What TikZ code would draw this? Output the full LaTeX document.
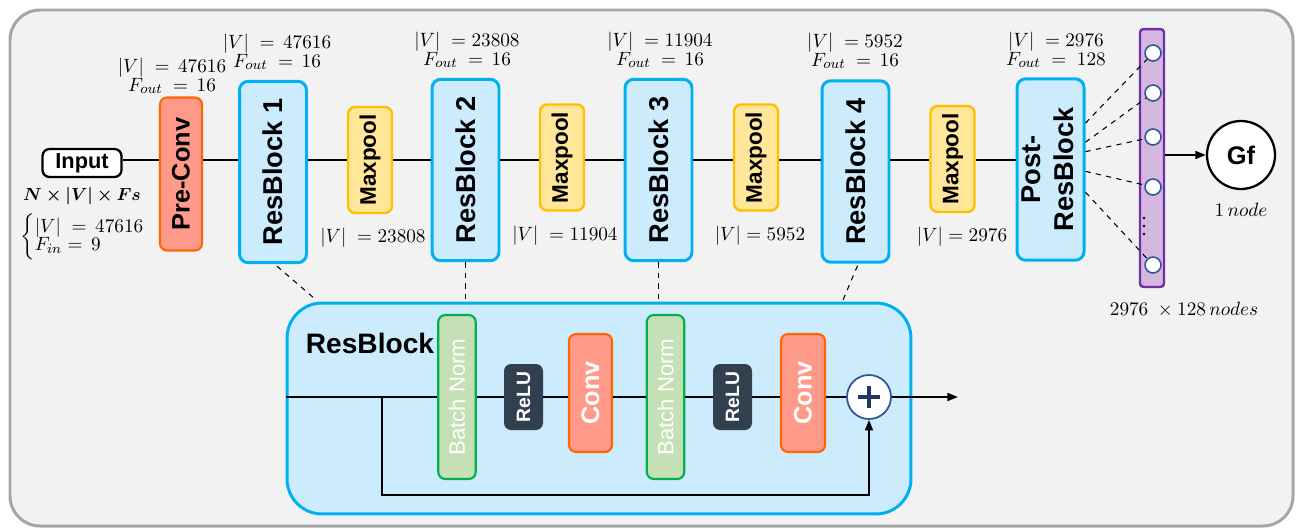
\documentclass[tikz,border=0pt]{standalone}
\usepackage[no-math]{fontspec}
\setmainfont{Liberation Sans}
\usepackage{amsmath}
\usepackage{bm}
\usepackage{tikz}
\usetikzlibrary{arrows.meta, positioning, calc}
\definecolor{frmgray}{RGB}{166,166,166}
\definecolor{frmfill}{RGB}{242,242,242}
\definecolor{rbblue}{RGB}{0,176,240}
\definecolor{rbfill}{RGB}{204,235,252}
\definecolor{cvorange}{RGB}{255,102,0}
\definecolor{cvfill}{RGB}{255,153,138}
\definecolor{plgold}{RGB}{255,192,0}
\definecolor{plfill}{RGB}{255,230,153}
\definecolor{bngreen}{RGB}{0,176,80}
\definecolor{bnfill}{RGB}{197,224,180}
\definecolor{relunavy}{RGB}{50,63,79}
\definecolor{fcpurple}{RGB}{112,48,160}
\definecolor{fcfill}{RGB}{213,182,223}
\definecolor{nodeblue}{RGB}{47,85,151}
\definecolor{plusnavy}{RGB}{31,56,100}
\newcommand{\vtxt}[1]{\rotatebox{90}{#1}}

\begin{document}
\begin{tikzpicture}[x=0.02cm, y=-0.02cm,
  inbox/.style={draw=black, fill=white, line width=1.3pt, rounded corners=4pt,
    minimum width=1.58cm, minimum height=0.56cm, inner sep=0pt,
    font=\fontsize{12.4}{14}\selectfont\bfseries},
  cvbox/.style={draw=cvorange, fill=cvfill, line width=1.2pt, rounded corners=4pt,
    minimum width=#1, inner sep=0pt},
  rblk/.style={draw=rbblue, fill=rbfill, line width=1.7pt, rounded corners=5pt,
    minimum width=1.34cm, minimum height=3.63cm, inner sep=0pt,
    font=\fontsize{15.5}{19}\selectfont\bfseries},
  pool/.style={draw=plgold, fill=plfill, line width=1.4pt, rounded corners=4pt,
    minimum width=0.88cm, minimum height=2.12cm, inner sep=0pt,
    font=\fontsize{12.8}{15}\selectfont\bfseries},
  bnbox/.style={draw=bngreen, fill=bnfill, line width=1.2pt, rounded corners=4pt,
    minimum width=0.75cm, minimum height=3.28cm, inner sep=0pt, text=white,
    font=\fontsize{12.6}{14}\selectfont},
  relubox/.style={fill=relunavy, rounded corners=4pt,
    minimum width=0.78cm, minimum height=1.32cm, inner sep=0pt, text=white,
    font=\fontsize{11}{13}\selectfont\bfseries},
  unit/.style={circle, draw=nodeblue, fill=white, line width=0.9pt,
    minimum size=0.32cm, inner sep=0pt},
  lbl/.style={font=\fontsize{10.95}{10.5}\selectfont, align=center, inner sep=0pt},
  wire/.style={line width=1.1pt},
  arr/.style={-{Stealth[length=6pt, inset=0pt]}, line width=1.1pt},
  dlink/.style={dashed, line width=0.6pt}
]
\useasboundingbox (0,0) rectangle (1298,528);
\draw[draw=frmgray, fill=frmfill, line width=1.7pt, rounded corners=0.6cm]
  (10,10) rectangle (1293,526);

% main pipeline
\node[inbox] (input) at (82,163) {Input};
\node[cvbox=0.84cm, minimum height=3.06cm,
  font=\fontsize{14.4}{17}\selectfont\bfseries] (preconv) at (181,174) {\vtxt{Pre-Conv}};
\node[rblk] (res1) at (273,172) {\vtxt{ResBlock 1}};
\node[pool] (pool1) at (370,160) {\vtxt{Maxpool}};
\node[rblk] (res2) at (465.5,170) {\vtxt{ResBlock 2}};
\node[pool] (pool2) at (562,157.5) {\vtxt{Maxpool}};
\node[rblk] (res3) at (658.5,170) {\vtxt{ResBlock 3}};
\node[pool] (pool3) at (756,157.5) {\vtxt{Maxpool}};
\node[rblk] (res4) at (855.5,171.5) {\vtxt{ResBlock 4}};
\node[pool] (pool4) at (952.5,159) {\vtxt{Maxpool}};
\node[rblk] (post) at (1050.5,169.5)
  {\vtxt{\begin{tabular}{@{}c@{}}Post-\\ResBlock\end{tabular}}};

\coordinate (spine) at (0,160);
\foreach \a/\b in {input/preconv, preconv/res1, res1/pool1, pool1/res2, res2/pool2,
    pool2/res3, res3/pool3, pool3/res4, res4/pool4, pool4/post}
  \draw[wire] (\a.east |- spine) -- (\b.west |- spine);

\node[lbl, font=\fontsize{10}{12}\selectfont] (dims) at (82,196) {$\bm{N\times|V|\times Fs}$};
\node[lbl, anchor=west] (inlbl) at (20,237)
  {$\biggl\{\begin{array}{@{}l@{}}|V|\;=\,47616\\
   F_{in}=\,9\end{array}$};
\node[lbl] (pclbl) at (172,76) {$|V|\;=\,47616$\\$F_{out}\;=\,16$};
\node[lbl] (r1lbl) at (277,52) {$|V|\;=\,47616$\\$F_{out}\;=\,16$};
\node[lbl] (r2lbl) at (467,50) {$|V|\;=23808$\\$F_{out}\;=\,16$};
\node[lbl] (r3lbl) at (660,50) {$|V|\;=11904$\\$F_{out}\;=\,16$};
\node[lbl] (r4lbl) at (855,51) {$|V|\;=5952$\\$F_{out}\;=\,16$};
\node[lbl] (pslbl) at (1056,50) {$|V|\;=2976$\\$F_{out}\;=\;128$};
\node[lbl] (p1lbl) at (373,238) {$|V|\;=23808$};
\node[lbl] (p2lbl) at (565,236) {$|V|\;=11904$};
\node[lbl] (p3lbl) at (760,236) {$|V|=5952$};
\node[lbl] (p4lbl) at (962,237) {$|V|=2976$};

% graph feature layer
\node[draw=fcpurple, fill=fcfill, line width=1.4pt, rounded corners=2pt,
  minimum width=0.48cm, minimum height=5.16cm] (fc) at (1152,158) {};
\foreach \i/\y in {1/53, 2/93, 3/137, 4/187, 5/265}
  \node[unit] (c\i) at (1153,\y) {};
\foreach \y in {218,226,234}
  \fill (1144,\y) circle (1.3);
\draw[dlink] (post.53) -- (c1);
\draw[dlink] (post.38) -- (c2);
\draw[dlink] (post.27) -- (c3);
\draw[dlink] (post.-3) -- (c4);
\draw[dlink] (post.-33) -- (c5);
\node[lbl] (fclbl) at (1184,310) {$2976\;\times 128\,nodes$};

\node[circle, draw=black, fill=white, line width=1.3pt, minimum size=1.36cm,
  font=\fontsize{14.5}{17}\selectfont\bfseries] (gf) at (1241,155) {Gf};
\node[lbl] (gflbl) at (1241,210) {$1\,node$};
\draw[arr] (fc.east |- gf) -- (gf.west);

% ResBlock detail
\node[draw=rbblue, fill=rbfill, line width=1.7pt, rounded corners=0.7cm,
  minimum width=12.48cm, minimum height=4.22cm] (rbd) at (599,408.5) {};
\node[font=\fontsize{16}{19}\selectfont\bfseries, inner sep=0pt] (rbdlbl) at (370,343) {ResBlock};
\coordinate (tap1) at (315,299);
\coordinate (tap4) at (843,300);
\draw[dlink] (res1.south) ++(4,2) -- (tap1);
\draw[dlink] (res2.south) -- (res2.south |- tap1);
\draw[dlink] (res3.south) -- (res3.south |- tap1);
\draw[dlink] (res4.south) ++(2,2) -- (tap4);

\node[bnbox] (bn1) at (457,397) {\vtxt{Batch Norm}};
\node[relubox] (relu1) at (523.5,397) {\vtxt{ReLU}};
\node[cvbox=0.86cm, minimum height=2.36cm, text=white,
  font=\fontsize{14.4}{17}\selectfont\bfseries] (conv1) at (590.5,393) {\vtxt{Conv}};
\node[bnbox] (bn2) at (665.5,397) {\vtxt{Batch Norm}};
\node[relubox] (relu2) at (732.5,397) {\vtxt{ReLU}};
\node[cvbox=0.88cm, minimum height=2.36cm, text=white,
  font=\fontsize{14.4}{17}\selectfont\bfseries] (conv2) at (803,393) {\vtxt{Conv}};
\node[circle, draw=nodeblue, fill=white, line width=1pt, minimum size=0.88cm] (plus) at (869,397) {};
\draw[plusnavy, line width=1.8pt] (plus.center) ++(-11,0) -- ++(22,0);
\draw[plusnavy, line width=1.8pt] (plus.center) ++(0,-11) -- ++(0,22);

\draw[wire] (rbd.west |- bn1) -- (bn1);
\foreach \a/\b in {bn1/relu1, relu1/conv1, conv1/bn2, bn2/relu2, relu2/conv2, conv2/plus}
  \draw[wire] (\a.east |- bn1) -- (\b.west |- bn1);
\coordinate (rbout) at (958,397);
\draw[arr] (plus) -- (rbout);
\coordinate (skip) at (382,397);
\coordinate (skipb) at (382,495);
\draw[arr] (skip) -- (skipb) -| (plus.south);
\end{tikzpicture}
\end{document}
